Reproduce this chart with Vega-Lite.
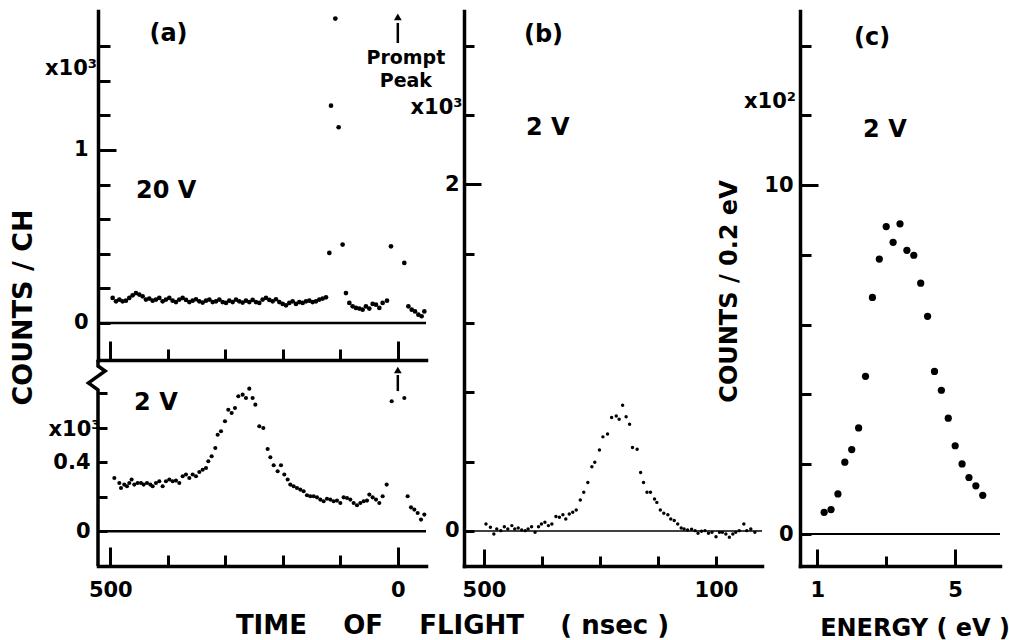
{
"$schema": "https://vega.github.io/schema/vega-lite/v6.json",
"background": "white",
"padding": {"left": 9, "top": 11, "right": 2, "bottom": 2},
"bounds": "flush",
"spacing": 38,
"datasets": {
"topA": [
{"ns":495.9,"v":0.145},{"ns":490.1,"v":0.125},{"ns":484.3,"v":0.135},{"ns":478.6,"v":0.125},{"ns":472.8,"v":0.129},{"ns":467.0,"v":0.145},{"ns":461.2,"v":0.160},{"ns":455.4,"v":0.173},{"ns":449.6,"v":0.164},{"ns":443.8,"v":0.154},{"ns":438.0,"v":0.135},{"ns":432.2,"v":0.141},{"ns":426.4,"v":0.129},{"ns":420.6,"v":0.135},{"ns":414.8,"v":0.145},{"ns":409.0,"v":0.125},{"ns":403.2,"v":0.135},{"ns":397.4,"v":0.145},{"ns":391.6,"v":0.129},{"ns":385.8,"v":0.121},{"ns":380.0,"v":0.135},{"ns":374.2,"v":0.145},{"ns":368.4,"v":0.133},{"ns":362.6,"v":0.121},{"ns":356.8,"v":0.129},{"ns":351.0,"v":0.137},{"ns":345.2,"v":0.125},{"ns":339.4,"v":0.118},{"ns":333.6,"v":0.129},{"ns":327.8,"v":0.135},{"ns":322.0,"v":0.121},{"ns":316.2,"v":0.125},{"ns":310.4,"v":0.135},{"ns":304.6,"v":0.121},{"ns":298.8,"v":0.116},{"ns":293.0,"v":0.129},{"ns":287.2,"v":0.121},{"ns":281.4,"v":0.135},{"ns":275.7,"v":0.125},{"ns":269.9,"v":0.118},{"ns":264.1,"v":0.129},{"ns":258.3,"v":0.121},{"ns":252.5,"v":0.133},{"ns":246.7,"v":0.121},{"ns":240.9,"v":0.116},{"ns":235.1,"v":0.135},{"ns":229.3,"v":0.145},{"ns":223.5,"v":0.133},{"ns":217.7,"v":0.125},{"ns":211.9,"v":0.137},{"ns":206.1,"v":0.121},{"ns":200.3,"v":0.110},{"ns":194.5,"v":0.102},{"ns":188.7,"v":0.116},{"ns":182.9,"v":0.125},{"ns":177.1,"v":0.110},{"ns":171.3,"v":0.121},{"ns":165.5,"v":0.116},{"ns":159.7,"v":0.125},{"ns":153.9,"v":0.129},{"ns":148.1,"v":0.121},{"ns":142.3,"v":0.125},{"ns":136.5,"v":0.135},{"ns":130.7,"v":0.141},{"ns":124.9,"v":0.148},
{"ns":119.1,"v":0.405},{"ns":116.2,"v":1.256},{"ns":108.7,"v":1.759},{"ns":102.9,"v":1.131},{"ns":96.0,"v":0.453},{"ns":90.2,"v":0.173},{"ns":84.3,"v":0.116},{"ns":78.6,"v":0.096},{"ns":72.8,"v":0.087},{"ns":67.0,"v":0.083},{"ns":61.2,"v":0.077},{"ns":55.4,"v":0.096},{"ns":49.6,"v":0.083},{"ns":43.8,"v":0.110},{"ns":38.0,"v":0.106},{"ns":32.2,"v":0.087},{"ns":26.4,"v":0.116},{"ns":18.8,"v":0.129},{"ns":11.9,"v":0.443},{"ns":-11.3,"v":0.347},{"ns":-18.3,"v":0.096},{"ns":-24.1,"v":0.077},{"ns":-29.9,"v":0.067},{"ns":-35.7,"v":0.048},{"ns":-41.4,"v":0.039},{"ns":-46.1,"v":0.067}
],
"botA": [
{"ns":493.0,"v":0.309},{"ns":484.3,"v":0.280},{"ns":481.4,"v":0.251},{"ns":475.7,"v":0.271},{"ns":471.0,"v":0.261},{"ns":467.0,"v":0.280},{"ns":462.9,"v":0.300},{"ns":458.3,"v":0.271},{"ns":452.5,"v":0.280},{"ns":446.7,"v":0.280},{"ns":442.0,"v":0.271},{"ns":436.2,"v":0.280},{"ns":430.4,"v":0.271},{"ns":426.4,"v":0.261},{"ns":420.6,"v":0.280},{"ns":414.8,"v":0.290},{"ns":409.0,"v":0.261},{"ns":403.2,"v":0.290},{"ns":397.4,"v":0.300},{"ns":391.6,"v":0.290},{"ns":385.8,"v":0.294},{"ns":380.0,"v":0.280},{"ns":374.2,"v":0.319},{"ns":368.4,"v":0.329},{"ns":362.6,"v":0.309},{"ns":356.8,"v":0.329},{"ns":351.0,"v":0.319},{"ns":345.2,"v":0.344},{"ns":339.4,"v":0.357},{"ns":333.6,"v":0.367},{"ns":329.6,"v":0.406},{"ns":323.8,"v":0.435},{"ns":317.4,"v":0.483},{"ns":313.3,"v":0.560},{"ns":307.5,"v":0.580},{"ns":300.6,"v":0.638},{"ns":294.8,"v":0.705},{"ns":289.0,"v":0.686},{"ns":283.2,"v":0.715},{"ns":277.4,"v":0.783},{"ns":269.9,"v":0.792},{"ns":264.1,"v":0.773},{"ns":258.3,"v":0.827},{"ns":252.5,"v":0.773},{"ns":247.8,"v":0.734},{"ns":240.9,"v":0.609},{"ns":233.9,"v":0.599},{"ns":226.4,"v":0.477},{"ns":221.7,"v":0.429},{"ns":215.9,"v":0.383},{"ns":209.0,"v":0.348},{"ns":203.2,"v":0.383},{"ns":197.4,"v":0.329},{"ns":191.6,"v":0.300},{"ns":187.0,"v":0.271},{"ns":181.2,"v":0.261},{"ns":175.4,"v":0.251},{"ns":169.6,"v":0.242},{"ns":163.8,"v":0.232},{"ns":158.0,"v":0.209},{"ns":152.2,"v":0.203},{"ns":146.4,"v":0.203},{"ns":140.6,"v":0.197},{"ns":134.8,"v":0.184},{"ns":129.0,"v":0.174},{"ns":123.2,"v":0.189},{"ns":117.4,"v":0.184},{"ns":111.6,"v":0.174},{"ns":105.8,"v":0.178},{"ns":100.0,"v":0.164},{"ns":94.2,"v":0.197},{"ns":88.4,"v":0.193},{"ns":82.6,"v":0.184},{"ns":76.8,"v":0.164},{"ns":71.0,"v":0.151},{"ns":65.2,"v":0.164},{"ns":59.4,"v":0.174},{"ns":53.6,"v":0.178},{"ns":49.6,"v":0.213},{"ns":43.8,"v":0.197},{"ns":38.0,"v":0.184},{"ns":32.2,"v":0.164},{"ns":26.4,"v":0.203},{"ns":19.4,"v":0.271},{"ns":10.7,"v":0.754},{"ns":-11.3,"v":0.773},{"ns":-17.1,"v":0.203},{"ns":-22.9,"v":0.139},{"ns":-28.7,"v":0.126},{"ns":-34.5,"v":0.106},{"ns":-40.3,"v":0.068},{"ns":-46.1,"v":0.097}
],
"zig": [
{"i":0,"ns":521.4,"v":0.993},{"i":1,"ns":521.4,"v":0.958},{"i":2,"ns":509,"v":0.929},{"i":3,"ns":538,"v":0.86},{"i":4,"ns":521.4,"v":0.82},{"i":5,"ns":521.4,"v":-0.201}
],
"b": [
{"ns":496.6,"v":0.040},{"ns":489,"v":0.021},{"ns":483,"v":-0.017},{"ns":478,"v":0.012},{"ns":471,"v":0.002},{"ns":465,"v":0.025},{"ns":459,"v":0.012},{"ns":452,"v":0.031},{"ns":447,"v":0.012},{"ns":441,"v":0.017},{"ns":435,"v":0.006},{"ns":429,"v":0.002},{"ns":424,"v":0.012},{"ns":418,"v":0.025},{"ns":412,"v":-0.008},{"ns":406,"v":0.025},{"ns":401,"v":0.040},{"ns":395,"v":0.050},{"ns":389,"v":0.031},{"ns":383,"v":0.040},{"ns":376,"v":0.083},{"ns":370,"v":0.079},{"ns":364,"v":0.094},{"ns":359,"v":0.069},{"ns":353,"v":0.098},{"ns":347,"v":0.108},{"ns":341,"v":0.121},{"ns":334,"v":0.179},{"ns":328,"v":0.223},{"ns":321,"v":0.280},{"ns":314,"v":0.371},{"ns":309,"v":0.396},{"ns":301,"v":0.467},{"ns":295,"v":0.543},{"ns":287,"v":0.559},{"ns":280,"v":0.655},{"ns":272,"v":0.664},{"ns":267,"v":0.645},{"ns":261,"v":0.726},{"ns":255,"v":0.659},{"ns":249,"v":0.616},{"ns":244,"v":0.482},{"ns":236,"v":0.472},{"ns":230,"v":0.338},{"ns":225,"v":0.280},{"ns":219,"v":0.223},{"ns":213,"v":0.223},{"ns":206,"v":0.184},{"ns":202,"v":0.165},{"ns":196,"v":0.121},{"ns":190,"v":0.102},{"ns":183,"v":0.094},{"ns":178,"v":0.069},{"ns":172,"v":0.060},{"ns":166,"v":0.040},{"ns":160,"v":0.017},{"ns":155,"v":0.012},{"ns":149,"v":0.006},{"ns":142,"v":0.010},{"ns":136,"v":0.002},{"ns":131,"v":-0.013},{"ns":125,"v":-0.002},{"ns":119,"v":0.002},{"ns":113,"v":-0.013},{"ns":107,"v":-0.008},{"ns":100,"v":-0.033},{"ns":94,"v":-0.008},{"ns":89,"v":-0.008},{"ns":83,"v":-0.017},{"ns":77,"v":-0.036},{"ns":71,"v":-0.017},{"ns":66,"v":-0.008},{"ns":60,"v":0.002},{"ns":52,"v":0.040},{"ns":47,"v":0.002},{"ns":40,"v":0.012},{"ns":33,"v":-0.008}
],
"c": [
{"e":1.2,"v":0.62},{"e":1.4,"v":0.70},{"e":1.6,"v":1.15},{"e":1.8,"v":2.06},{"e":2.0,"v":2.42},{"e":2.2,"v":3.04},{"e":2.4,"v":4.52},{"e":2.6,"v":6.78},{"e":2.8,"v":7.88},{"e":3.0,"v":8.81},{"e":3.2,"v":8.36},{"e":3.4,"v":8.89},{"e":3.6,"v":8.13},{"e":3.8,"v":7.99},{"e":4.0,"v":7.19},{"e":4.2,"v":6.24},{"e":4.4,"v":4.66},{"e":4.6,"v":4.12},{"e":4.8,"v":3.32},{"e":5.0,"v":2.53},{"e":5.2,"v":2.01},{"e":5.4,"v":1.62},{"e":5.6,"v":1.38},{"e":5.8,"v":1.11}
]
},
"hconcat": [
{
"width": 328, "height": 555,
"layer": [
{"layer": [
{"data": {"name": "topA"}, "mark": {"type": "point", "size": 22},
"encoding": {
"x": {"field": "ns", "type": "quantitative", "scale": {"domain": [-49, 521.4], "reverse": true, "nice": false, "zero": false},
"axis": {"orient": "top", "offset": -349, "values": [500,400,300,200,100,0], "labels": false, "title": null,
"tickSize": {"condition": {"test": "datum.value === 500 || datum.value === 0", "value": 19}, "value": 11}}},
"y": {"field": "v", "type": "quantitative", "scale": {"domain": [-0.214, 1.803], "range": [349, 0], "nice": false, "zero": false},
"axis": {"orient": "right", "offset": -328, "values": [0,0.2,0.4,0.6,0.8,1,1.2,1.4,1.6],
"tickSize": {"condition": {"test": "datum.value === 1", "value": 18}, "value": 12},
"labelPadding": {"condition": {"test": "datum.value === 1", "value": -28}, "value": -22},
"labelAlign": "right",
"labelExpr": "datum.value === 0 ? '0' : datum.value === 1 ? '1' : ''",
"title": "COUNTS / CH", "titleX": -75, "titleY": 296, "titleBaseline": "middle", "titleAlign": "center", "titleAngle": 270, "titleFontSize": 27}}
}},
{"data": {"values": [{}]}, "mark": {"type": "rule", "strokeWidth": 2.5, "color": "black"}, "encoding": {"y": {"datum": 0}}},
{"data": {"values": [{}]}, "mark": {"type": "text", "text": "(a)", "fontSize": 24, "fontWeight": "bold", "align": "center", "baseline": "alphabetic"}, "encoding": {"x": {"datum": 398.8}, "y": {"datum": 1.63}}},
{"data": {"values": [{}]}, "mark": {"type": "text", "text": "20 V", "fontSize": 24, "fontWeight": "bold", "align": "left", "baseline": "alphabetic"}, "encoding": {"x": {"datum": 455.3}, "y": {"datum": 0.7225}}},
{"data": {"values": [{}]}, "mark": {"type": "text", "text": ["Prompt", "Peak"], "fontSize": 19, "fontWeight": "bold", "lineHeight": 22.6, "align": "center", "baseline": "alphabetic"}, "encoding": {"x": {"datum": -14}, "y": {"datum": 1.494}}},
{"data": {"values": [{}]}, "mark": {"type": "text", "text": "x10³", "fontSize": 21, "fontWeight": "bold", "align": "right", "baseline": "alphabetic", "dx": -1}, "encoding": {"x": {"datum": 521.4}, "y": {"datum": 1.435}}},
{"data": {"values": [{}]}, "mark": {"type": "rule", "strokeWidth": 2.5, "color": "black"}, "encoding": {"x": {"datum": 0}, "y": {"datum": 1.618}, "y2": {"datum": 1.734}}},
{"data": {"values": [{}]}, "mark": {"type": "point", "shape": "triangle-up", "size": 60}, "encoding": {"x": {"datum": 0}, "y": {"datum": 1.769}}}
]},
{"layer": [
{"data": {"name": "botA"}, "mark": {"type": "point", "size": 17},
"encoding": {
"x": {"field": "ns", "type": "quantitative", "scale": {"domain": [-49, 521.4], "reverse": true, "nice": false, "zero": false},
"axis": {"orient": "top", "offset": -555, "values": [500,400,300,200,100,0],
"tickSize": {"condition": {"test": "datum.value === 500 || datum.value === 0", "value": 19}, "value": 11},
"labelPadding": {"condition": {"test": "datum.value === 500 || datum.value === 0", "value": -49}, "value": -41},
"labelBaseline": "alphabetic", "labelAlign": "center",
"labelExpr": "datum.value === 500 ? '500' : datum.value === 0 ? '0' : ''",
"title": "TIME\u00a0\u00a0\u00a0\u00a0OF\u00a0\u00a0\u00a0\u00a0FLIGHT\u00a0\u00a0\u00a0\u00a0(\u00a0nsec\u00a0)",
"titleX": 354, "titleY": 67, "titleBaseline": "alphabetic", "titleAlign": "center", "titleAngle": 0}},
"y": {"field": "v", "type": "quantitative", "scale": {"domain": [-0.201, 0.993], "range": [555, 349], "nice": false, "zero": false},
"axis": {"orient": "right", "offset": -328, "domain": false, "values": [0,0.2,0.4,0.6,0.8], "tickSize": 9, "labelPadding": -17, "labelAlign": "right",
"labelExpr": "datum.value === 0 ? '0' : datum.value === 0.4 ? '0.4' : ''",
"title": "x10³", "titleAngle": 0, "titleX": 2, "titleY": 424, "titleAlign": "right", "titleBaseline": "alphabetic", "titleFontSize": 21}}
}},
{"data": {"values": [{}]}, "mark": {"type": "rule", "strokeWidth": 2.5, "color": "black"}, "encoding": {"y": {"datum": 0}}},
{"data": {"name": "zig"}, "mark": {"type": "line", "strokeWidth": 3.5, "color": "black", "strokeJoin": "miter"}, "encoding": {"x": {"field": "ns", "type": "quantitative"}, "y": {"field": "v", "type": "quantitative"}, "order": {"field": "i"}}},
{"data": {"values": [{}]}, "mark": {"type": "text", "text": "2 V", "fontSize": 24, "fontWeight": "bold", "align": "left", "baseline": "alphabetic"}, "encoding": {"x": {"datum": 458.6}, "y": {"datum": 0.705}}},
{"data": {"values": [{}]}, "mark": {"type": "rule", "strokeWidth": 2.5, "color": "black"}, "encoding": {"x": {"datum": 0}, "y": {"datum": 0.813}, "y2": {"datum": 0.906}}},
{"data": {"values": [{}]}, "mark": {"type": "point", "shape": "triangle-up", "size": 60}, "encoding": {"x": {"datum": 0}, "y": {"datum": 0.935}}}
]}
],
"resolve": {"scale": {"y": "independent"}, "axis": {"x": "independent", "y": "independent"}}
},
{
"width": 298, "height": 555,
"layer": [
{"data": {"name": "b"}, "mark": {"type": "point", "size": 12},
"encoding": {
"x": {"field": "ns", "type": "quantitative", "scale": {"domain": [20.7, 534.5], "reverse": true, "nice": false, "zero": false},
"axis": {"orient": "top", "offset": -555, "values": [500,400,300,200,100],
"tickSize": {"condition": {"test": "datum.value === 500", "value": 17}, "value": 10},
"labelPadding": {"condition": {"test": "datum.value === 500", "value": -47}, "value": -40},
"labelBaseline": "alphabetic", "labelAlign": "center",
"labelExpr": "datum.value === 500 ? '500' : datum.value === 100 ? '100' : ''",
"title": null}},
"y": {"field": "v", "type": "quantitative", "scale": {"domain": [-0.202, 3.0], "nice": false, "zero": false},
"axis": {"orient": "right", "offset": -298, "values": [0,0.2,0.4,0.6,0.8,1,1.2,1.4,1.6,1.8,2,2.2,2.4,2.6,2.8],
"tickSize": {"condition": {"test": "datum.value === 1 || datum.value === 2", "value": 17}, "value": 10},
"labelPadding": {"condition": {"test": "datum.value === 1 || datum.value === 2", "value": -22}, "value": -15},
"labelAlign": "right",
"labelExpr": "datum.value === 0 ? '0' : datum.value === 1 ? '1' : datum.value === 2 ? '2' : ''",
"title": "x10³", "titleAngle": 0, "titleX": -2, "titleY": 102, "titleAlign": "right", "titleBaseline": "alphabetic", "titleFontSize": 21}}
}},
{"data": {"values": [{}]}, "mark": {"type": "rule", "strokeWidth": 1.3, "color": "black"}, "encoding": {"y": {"datum": 0}}},
{"data": {"values": [{}]}, "mark": {"type": "text", "text": "(b)", "fontSize": 24, "fontWeight": "bold", "align": "center", "baseline": "alphabetic"}, "encoding": {"x": {"datum": 397.4}, "y": {"datum": 2.822}}},
{"data": {"values": [{}]}, "mark": {"type": "text", "text": "2 V", "fontSize": 24, "fontWeight": "bold", "align": "left", "baseline": "alphabetic"}, "encoding": {"x": {"datum": 427.6}, "y": {"datum": 2.284}}}
]
},
{
"width": 200, "height": 555,
"layer": [
{"data": {"name": "c"}, "mark": {"type": "point", "size": 52},
"encoding": {
"x": {"field": "e", "type": "quantitative", "scale": {"domain": [0.5, 6.3], "nice": false, "zero": false},
"axis": {"orient": "top", "offset": -555, "values": [1,2,3,4,5,6],
"tickSize": {"condition": {"test": "datum.value === 1 || datum.value === 5", "value": 17}, "value": 10},
"labelPadding": {"condition": {"test": "datum.value === 1 || datum.value === 5", "value": -47}, "value": -40},
"labelBaseline": "alphabetic", "labelAlign": "center",
"labelExpr": "datum.value === 1 ? '1' : datum.value === 5 ? '5' : ''",
"title": "ENERGY\u00a0(\u00a0eV\u00a0)", "titleX": 114.5, "titleY": 69, "titleBaseline": "alphabetic", "titleAlign": "center", "titleAngle": 0, "titleFontSize": 24}},
"y": {"field": "v", "type": "quantitative", "scale": {"domain": [-0.917, 14.99], "nice": false, "zero": false},
"axis": {"orient": "right", "offset": -200, "values": [0,1,2,3,4,5,6,7,8,9,10,11,12,13,14],
"tickSize": {"condition": {"test": "datum.value === 5 || datum.value === 10", "value": 18}, "value": 11},
"labelPadding": {"condition": {"test": "datum.value === 5 || datum.value === 10", "value": -25}, "value": -18},
"labelAlign": "right",
"labelExpr": "datum.value === 0 ? '0' : datum.value === 5 ? '5' : datum.value === 10 ? '10' : ''",
"title": "COUNTS / 0.2 eV", "titleX": -71, "titleY": 280, "titleBaseline": "middle", "titleAlign": "center", "titleAngle": 270, "titleFontSize": 24}}
}},
{"data": {"values": [{}]}, "mark": {"type": "rule", "strokeWidth": 2, "color": "black"}, "encoding": {"y": {"datum": 0}}},
{"data": {"values": [{}]}, "mark": {"type": "text", "text": "(c)", "fontSize": 24, "fontWeight": "bold", "align": "center", "baseline": "alphabetic"}, "encoding": {"x": {"datum": 2.59}, "y": {"datum": 14.02}}},
{"data": {"values": [{}]}, "mark": {"type": "text", "text": "2 V", "fontSize": 24, "fontWeight": "bold", "align": "left", "baseline": "alphabetic"}, "encoding": {"x": {"datum": 2.33}, "y": {"datum": 11.37}}},
{"data": {"values": [{}]}, "mark": {"type": "text", "text": "x10²", "fontSize": 21, "fontWeight": "bold", "align": "right", "baseline": "alphabetic", "dx": -4}, "encoding": {"x": {"datum": 0.5}, "y": {"datum": 12.2}}}
]
}
],
"config": {
"view": {"stroke": null},
"mark": {"color": "black"},
"point": {"filled": true, "opacity": 1, "color": "black"},
"text": {"font": "DejaVu Sans", "color": "black"},
"axis": {"grid": false, "domainColor": "black", "domainWidth": 3.5, "domainCap": "square", "ticks": true, "tickColor": "black", "tickWidth": 3,
"labelColor": "black", "labelFont": "DejaVu Sans", "labelFontSize": 21, "labelFontWeight": "bold", "labelFlush": false, "labelOverlap": false, "labelBound": false,
"titleFont": "DejaVu Sans", "titleFontSize": 26, "titleFontWeight": "bold", "titleColor": "black"}
}
}
